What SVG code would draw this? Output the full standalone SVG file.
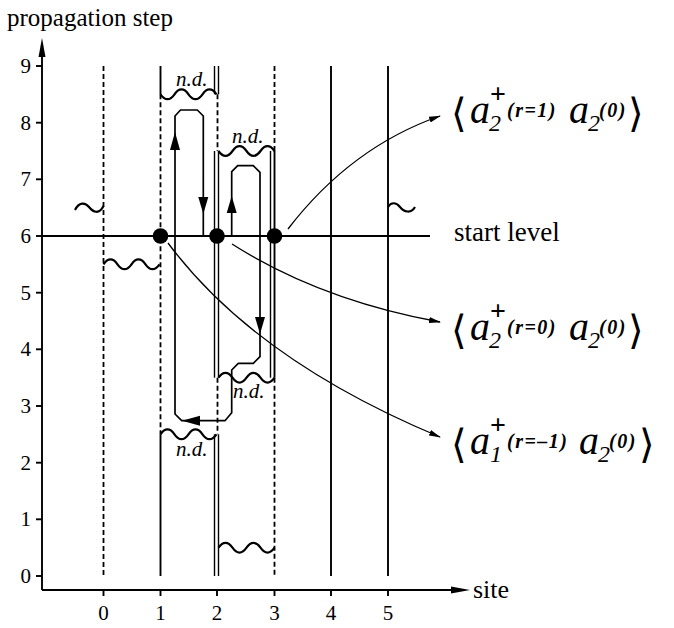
<svg xmlns="http://www.w3.org/2000/svg" xmlns:xlink="http://www.w3.org/1999/xlink" width="674" height="628" viewBox="0 0 674 628">
<style>
  .ln{stroke:#000;stroke-width:1.9;fill:none}
  .thin{stroke:#000;stroke-width:1.4;fill:none}
  .dash{stroke:#000;stroke-width:1.8;fill:none;stroke-dasharray:5 3}
  .wave{stroke:#000;stroke-width:2.2;fill:none}
  .loop{stroke:#000;stroke-width:1.7;fill:none;stroke-linejoin:miter}
  .curve{stroke:#000;stroke-width:1.3;fill:none;marker-end:url(#ah)}
  .ah{fill:#000}
  .dot{fill:#000}
  text{font-family:"Liberation Serif","Times New Roman",serif;fill:#000}
  .tkl{font-size:21px;text-anchor:end}
  .tkb{font-size:21px;text-anchor:middle}
  .big{font-size:26px}
  .nd{font-size:21px;font-style:italic}
  .br{font-family:"DejaVu Sans","Noto Sans",sans-serif;font-size:40px;font-style:normal;font-weight:normal;letter-spacing:0}
  .a{font-size:40px;font-style:italic;font-weight:normal;letter-spacing:0}
  .sub{font-size:24px;font-style:italic;font-weight:normal;letter-spacing:0}
  .sup{font-size:28px;font-weight:bold;font-style:normal;letter-spacing:0}
  .arg{font-size:20px;font-style:italic;font-weight:bold;letter-spacing:1.5px}
</style>
<defs>
  <marker id="ah" markerUnits="userSpaceOnUse" viewBox="0 0 12 6" refX="11" refY="3" markerWidth="12" markerHeight="6" orient="auto">
    <path d="M0,0 L12,3 L0,6 z" fill="#000"/>
  </marker>
  <path id="waveU" class="wave" d="M0,0 c4.5,-6.5 9.5,-6.5 14,0 s9.5,6.5 14,0 s9.5,-6.5 14,0 s9.5,6.5 14,0"/>
  <path id="waveD" class="wave" d="M0,0 c4.5,6.5 9.5,6.5 14,0 s9.5,-6.5 14,0 s9.5,6.5 14,0 s9.5,-6.5 14,0"/>
</defs>

<g id="axes">
  <line class="ln" x1="42" y1="590" x2="42" y2="50"/>
  <polygon class="ah" points="42,38 38.5,57 45.5,57"/>
  <line class="ln" x1="42" y1="590" x2="458" y2="590"/>
  <polygon class="ah" points="470,590 451,586.5 451,593.5"/>
  <g class="ln">
    <line x1="36" y1="576" x2="42" y2="576"/>
    <line x1="36" y1="519.3" x2="42" y2="519.3"/>
    <line x1="36" y1="462.7" x2="42" y2="462.7"/>
    <line x1="36" y1="406" x2="42" y2="406"/>
    <line x1="36" y1="349.3" x2="42" y2="349.3"/>
    <line x1="36" y1="292.7" x2="42" y2="292.7"/>
    <line x1="36" y1="236" x2="42" y2="236"/>
    <line x1="36" y1="179.3" x2="42" y2="179.3"/>
    <line x1="36" y1="122.7" x2="42" y2="122.7"/>
    <line x1="36" y1="66" x2="42" y2="66"/>
    <line x1="103.5" y1="590" x2="103.5" y2="596"/>
    <line x1="160.5" y1="590" x2="160.5" y2="596"/>
    <line x1="217" y1="590" x2="217" y2="596"/>
    <line x1="274.5" y1="590" x2="274.5" y2="596"/>
    <line x1="331" y1="590" x2="331" y2="596"/>
    <line x1="388" y1="590" x2="388" y2="596"/>
  </g>
  <text class="tkl" x="31" y="583">0</text>
  <text class="tkl" x="31" y="526.3">1</text>
  <text class="tkl" x="31" y="469.7">2</text>
  <text class="tkl" x="31" y="413">3</text>
  <text class="tkl" x="31" y="356.3">4</text>
  <text class="tkl" x="31" y="299.7">5</text>
  <text class="tkl" x="31" y="243">6</text>
  <text class="tkl" x="31" y="186.3">7</text>
  <text class="tkl" x="31" y="129.7">8</text>
  <text class="tkl" x="31" y="73">9</text>
  <text class="tkb" x="103.5" y="620">0</text>
  <text class="tkb" x="160.5" y="620">1</text>
  <text class="tkb" x="217" y="620">2</text>
  <text class="tkb" x="274.5" y="620">3</text>
  <text class="tkb" x="331" y="620">4</text>
  <text class="tkb" x="388" y="620">5</text>
  <text class="big" x="7" y="26" style="font-size:25px">propagation step</text>
  <text class="big" x="473" y="598">site</text>
</g>

<g id="site-lines">
  <line class="dash" x1="103.5" y1="66" x2="103.5" y2="576"/>
  <line class="ln" x1="160.5" y1="66" x2="160.5" y2="94.3"/>
  <line class="dash" x1="160.5" y1="94.3" x2="160.5" y2="434.3"/>
  <line class="ln" x1="160.5" y1="434.3" x2="160.5" y2="576"/>
  <line class="thin" x1="214.5" y1="66" x2="214.5" y2="94.3"/>
  <line class="thin" x1="218.5" y1="66" x2="218.5" y2="94.3"/>
  <line class="dash" x1="217.5" y1="94.3" x2="217.5" y2="151"/>
  <line class="thin" x1="214.5" y1="151" x2="214.5" y2="377.7"/>
  <line class="thin" x1="218.5" y1="151" x2="218.5" y2="377.7"/>
  <line class="dash" x1="217.5" y1="377.7" x2="217.5" y2="434.3"/>
  <line class="thin" x1="214.5" y1="434.3" x2="214.5" y2="576"/>
  <line class="thin" x1="218.5" y1="434.3" x2="218.5" y2="576"/>
  <line class="dash" x1="274.5" y1="66" x2="274.5" y2="151"/>
  <line class="thin" x1="270.5" y1="151" x2="270.5" y2="377.7"/>
  <line class="ln" x1="274.5" y1="151" x2="274.5" y2="377.7"/>
  <line class="dash" x1="274.5" y1="377.7" x2="274.5" y2="576"/>
  <line class="ln" x1="331" y1="66" x2="331" y2="576"/>
  <line class="ln" x1="388" y1="66" x2="388" y2="576"/>
  <line class="ln" x1="42" y1="236" x2="430" y2="236"/>
  <text class="big" x="454" y="241" style="font-size:27px">start level</text>
</g>

<g id="waves">
  <use href="#waveD" x="160.5" y="94.3"/>
  <use href="#waveD" x="218.5" y="151"/>
  <use href="#waveU" x="103.5" y="264.3"/>
  <use href="#waveU" x="218.5" y="377.7"/>
  <use href="#waveU" x="160.5" y="434.3"/>
  <use href="#waveU" x="218.5" y="547.7"/>
  <path class="wave" d="M75,210 C79,202 85,202 89,207 S99,215 103.5,206"/>
  <path class="wave" d="M388,207 C391,202 396,202 400,207 S411,214 415,207"/>
  <text class="nd" x="176" y="86">n.d.</text>
  <text class="nd" x="232" y="143">n.d.</text>
  <text class="nd" x="233" y="398">n.d.</text>
  <text class="nd" x="176" y="456">n.d.</text>
</g>

<g id="connectors">
  <polyline class="loop" points="231.7,236 231.7,171.7 237.7,165.7 253.3,165.7 260,172.3 260,356.7 253.3,363.3 238.3,363.3 231.7,370 231.7,412.7 225,420.7 181.7,420.7 175,414 175,116 180.5,110 197.3,110 203.3,116 203.3,236"/>
  <polygon class="ah" points="175,132 170,150 180,150"/>
  <polygon class="ah" points="203.3,214 198.3,197 208.3,197"/>
  <polygon class="ah" points="231.7,196 226.7,213 236.7,213"/>
  <polygon class="ah" points="260,334 255,317 265,317"/>
  <polygon class="ah" points="182,420.7 200,415.7 200,425.7"/>
  <path class="curve" d="M288,229 Q351,147 440,116"/>
  <path class="curve" d="M232,244 Q320,300 440,322"/>
  <path class="curve" d="M168,243 Q255,360 440,437"/>
</g>

<g id="node-site1"><circle class="dot" cx="160.5" cy="236" r="7.8"/></g>
<g id="node-site2"><circle class="dot" cx="217" cy="236" r="7.8"/></g>
<g id="node-site3"><circle class="dot" cx="274.5" cy="236" r="7.8"/></g>

<g id="label-r1">
  <text><tspan class="br" x="451" y="127">⟨</tspan><tspan class="a" x="470" y="123">a</tspan><tspan class="sub" x="489" y="131">2</tspan><tspan class="sup" x="490" y="103">+</tspan><tspan class="arg" x="507" y="117">(r=1)</tspan><tspan class="a" x="569" y="123">a</tspan><tspan class="sub" x="588" y="131">2</tspan><tspan class="arg" x="599" y="117">(0)</tspan><tspan class="br" x="628" y="127">⟩</tspan></text>
</g>
<g id="label-r0">
  <text><tspan class="br" x="451" y="343.5">⟨</tspan><tspan class="a" x="470" y="339.5">a</tspan><tspan class="sub" x="489" y="347.5">2</tspan><tspan class="sup" x="490" y="319.5">+</tspan><tspan class="arg" x="507" y="333.5">(r=0)</tspan><tspan class="a" x="569" y="339.5">a</tspan><tspan class="sub" x="588" y="347.5">2</tspan><tspan class="arg" x="599" y="333.5">(0)</tspan><tspan class="br" x="628" y="343.5">⟩</tspan></text>
</g>
<g id="label-rm1">
  <text><tspan class="br" x="451" y="457.5">⟨</tspan><tspan class="a" x="470" y="453.5">a</tspan><tspan class="sub" x="490" y="461.5">1</tspan><tspan class="sup" x="490" y="433.5">+</tspan><tspan class="arg" x="507" y="447.5">(r=–1)</tspan><tspan class="a" x="579" y="453.5">a</tspan><tspan class="sub" x="598" y="461.5">2</tspan><tspan class="arg" x="609" y="447.5">(0)</tspan><tspan class="br" x="639" y="457.5">⟩</tspan></text>
</g>
</svg>
